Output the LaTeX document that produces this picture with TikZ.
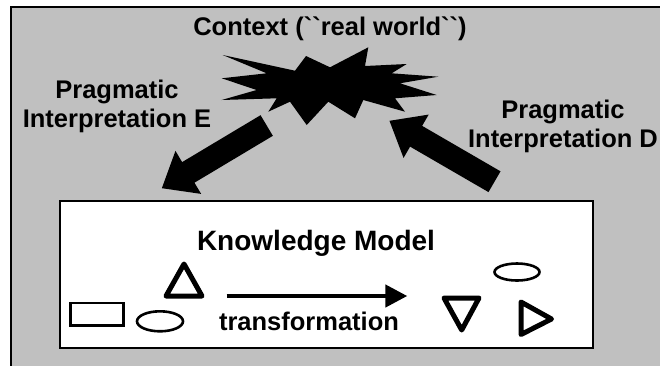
\documentclass[tikz,border=0pt]{standalone}
\usepackage{fontspec}
\setmainfont{Liberation Sans}[Ligatures=TeXOff]
\usetikzlibrary{arrows.meta}
\definecolor{framegray}{RGB}{192,192,192}
\begin{document}
\begin{tikzpicture}[x=1pt, y=-1pt,
	lbl/.style={font=\fontsize{25.5}{29}\selectfont\bfseries, align=center, inner sep=0pt},
	bigarrow/.style={line width=24pt, -{Triangle[length=31pt, width=48pt]}},
	thinshape/.style={line width=2.6pt},
	thickshape/.style={line width=5pt, line join=round}]
	\useasboundingbox (0,0) rectangle (660,365);
	\clip (0,0) rectangle (660,365);
	
	%grey frame
	\draw[fill=framegray, line width=1.5pt] (11,7) rectangle (700,400);
	
	%knowledge model box
	\node[draw, fill=white, line width=2pt, anchor=north west, inner sep=0pt,
		minimum width=533pt, minimum height=147pt] (model) at (59,200) {};
	
	%context starburst
	\fill (222.7,55) -- (295,70.7) -- (306,56) -- (330,67.3) -- (368.3,47.3)
		-- (365,66) -- (406.7,64) -- (391.7,73.3) -- (438.3,76.7) -- (400,83.3)
		-- (436.7,95) -- (395,98.3) -- (405,111.7) -- (363.3,100) -- (355,118.3)
		-- (328.3,101.7) -- (306.7,125) -- (290,101.7) -- (268.3,111.7)
		-- (276.7,98.3) -- (221.7,100) -- (256.7,90) -- (221.7,78.3)
		-- (266.7,73.3) -- cycle;
	\node[lbl, anchor=base] (context) at (330,35) {Context (``real world``)};
	
	%interpretation arrows
	\coordinate (eTail) at (266.7,125.5);
	\coordinate (eTip) at (161.7,188.3);
	\coordinate (dTail) at (494.5,181.7);
	\coordinate (dTip) at (389.3,120.7);
	\draw[bigarrow] (eTail) -- (eTip);
	\draw[bigarrow] (dTail) -- (dTip);
	\node[lbl] (interpE) at (117,106) {Pragmatic\\Interpretation E};
	\node[lbl] (interpD) at (563,126.5) {Pragmatic\\Interpretation D};
	
	%inside the model
	\node[lbl, anchor=base, font=\fontsize{28}{32}\selectfont\bfseries] (title) at (316,250) {Knowledge Model};
	\node[lbl, anchor=base] (trans) at (309,330) {transformation};
	\coordinate (trStart) at (226.7,296);
	\coordinate (trEnd) at (407.3,296);
	\draw[line width=4.5pt, -{Triangle[length=22pt, width=22pt]}] (trStart) -- (trEnd);
	
	\draw[thinshape] (70.5,303) rectangle (123.5,325.5);
	\draw[thinshape] (160,321.3) ellipse [x radius=23pt, y radius=10pt];
	\draw[thickshape] (184,264) -- (166,296) -- (202,296) -- cycle;
	
	\draw[thinshape] (517,272) ellipse [x radius=22.5pt, y radius=8.5pt];
	\draw[thickshape] (444,298) -- (479,298) -- (461.7,330) -- cycle;
	\draw[thickshape] (521,302) -- (521,334.5) -- (551.5,319) -- cycle;
\end{tikzpicture}
\end{document}
